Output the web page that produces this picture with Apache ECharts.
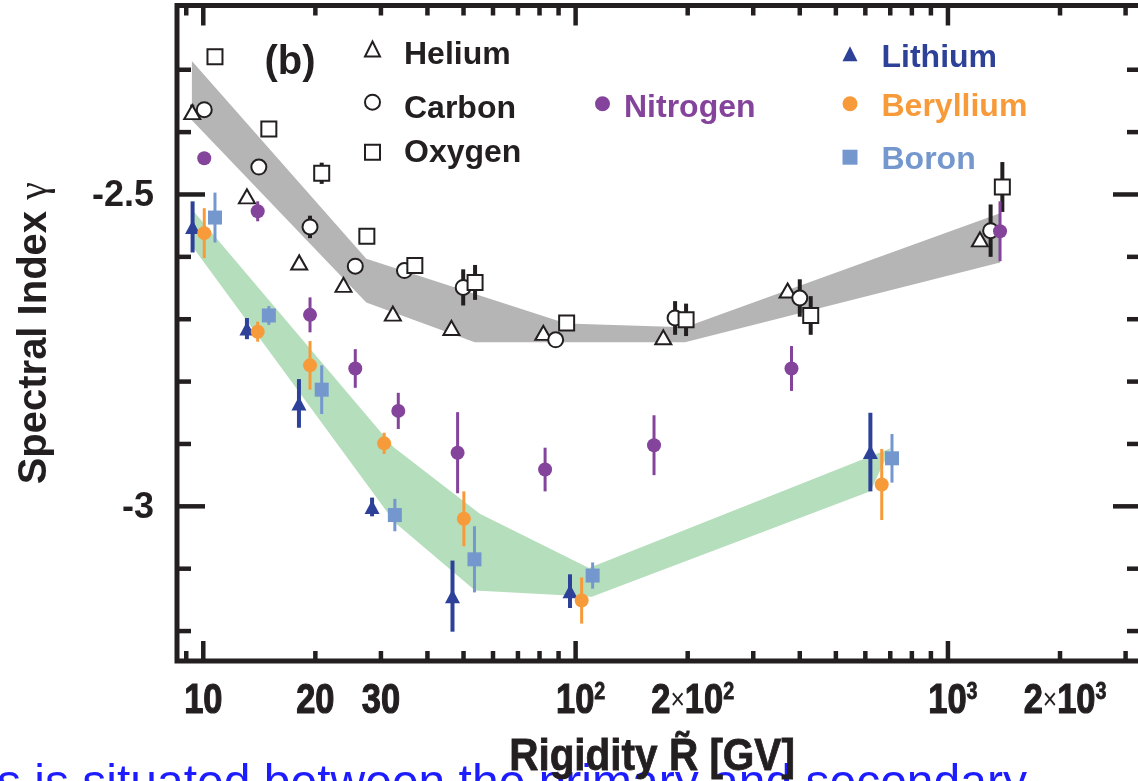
<!DOCTYPE html>
<html>
<head>
<meta charset="utf-8">
<script src="https://cdn.jsdelivr.net/npm/echarts@6/dist/echarts.min.js"></script>
<style>
  html, body { margin: 0; padding: 0; background: #ffffff; }
  #chart { width: 1138px; height: 781px; }
</style>
</head>
<body>
<div id="chart"></div>
<script>
// Spectral index vs rigidity. Each point: [rigidity GV, gamma, error]
const helium = [
  [9.34, -2.368, 0.012], [13.1, -2.503, 0], [18.1, -2.609, 0], [23.8, -2.645, 0],
  [32.3, -2.691, 0], [46.4, -2.714, 0], [81.9, -2.722, 0], [172, -2.729, 0],
  [371, -2.654, 0], [1219, -2.572, 0]
];
const carbon = [
  [10.06, -2.364, 0], [14.1, -2.456, 0], [19.35, -2.552, 0.018], [25.6, -2.615, 0],
  [34.7, -2.622, 0], [49.9, -2.649, 0.029], [88.4, -2.733, 0], [185, -2.698, 0.027],
  [400, -2.666, 0.030], [1302, -2.558, 0.042]
];
const oxygen = [
  [10.75, -2.279, 0], [15.0, -2.395, 0], [20.8, -2.466, 0.017], [27.5, -2.567, 0],
  [37.0, -2.614, 0], [53.7, -2.641, 0.028], [94.6, -2.706, 0], [198, -2.701, 0.026],
  [428, -2.694, 0.031], [1400, -2.488, 0.040]
];
const nitrogen = [
  [10.06, -2.442, 0], [14.0, -2.527, 0.016], [19.35, -2.693, 0.028], [25.6, -2.779, 0.031],
  [33.4, -2.847, 0.029], [48.2, -2.914, 0.065], [82.8, -2.941, 0.035], [162.4, -2.902, 0.048],
  [380, -2.779, 0.036], [1380, -2.559, 0.048]
];
const lithium = [
  [9.36, -2.552, 0.041], [13.1, -2.715, 0.017], [18.07, -2.835, 0.039], [28.4, -3.001, 0.015],
  [46.7, -3.144, 0.057], [96.6, -3.136, 0.027], [619, -2.913, 0.063]
];
const beryllium = [
  [10.06, -2.562, 0.040], [14.0, -2.720, 0.016], [19.35, -2.774, 0.039], [30.6, -2.899, 0.017],
  [50.1, -3.020, 0.044], [103.8, -3.151, 0.037], [664, -2.965, 0.057]
];
const boron = [
  [10.75, -2.537, 0.040], [15.0, -2.694, 0.015], [20.8, -2.813, 0.039], [32.7, -3.014, 0.026],
  [53.5, -3.085, 0.053], [111.1, -3.111, 0.021], [707.5, -2.923, 0.039]
];

// Fit bands: upper and lower edges [rigidity, gamma]
const primaryUpper = [[9.32, -2.286], [27.4, -2.603], [94.4, -2.707], [196.7, -2.713], [1380, -2.530]];
const primaryLower = [[9.32, -2.381], [27.4, -2.673], [53.6, -2.737], [196.7, -2.737], [1380, -2.609]];
const secondaryUpper = [[9.39, -2.526], [32.4, -2.905], [55.3, -3.012], [108.6, -3.099], [702, -2.907]];
const secondaryLower = [[9.39, -2.585], [32.7, -3.026], [53.7, -3.135], [110.5, -3.145], [619, -2.976]];

// Axis ticks and labels
const xMajorTicks = [10, 100, 1000];
const xMinorTicks = [9, 20, 30, 40, 50, 60, 70, 80, 90, 200, 300, 400, 500, 600, 700, 800, 900, 2000, 3000];
const yMajorTicks = [-3, -2.5];
const yMinorTicks = [-3.2, -3.1, -2.9, -2.8, -2.7, -2.6, -2.4, -2.3];
const xLabelValues = [10, 20, 30, 100, 200, 1000, 2000];
const xLabelTexts = ['10', '20', '30', '10{s|2}', '2{x|\u00d7}10{s|2}', '10{s|3}', '2{x|\u00d7}10{s|3}'];
const yLabelValues = [-3, -2.5];
const yLabelTexts = ['-3', '-2.5'];

const X_MIN = 8.5, X_MAX = 3300, Y_MIN = -3.248, Y_MAX = -2.197;
const INK = '#231f20';
const C_N = '#84449b', C_LI = '#2e4198', C_BE = '#f79a3a', C_B = '#7497ce';
const SANS = "'Liberation Sans', Arial, Helvetica, sans-serif";

function bandItem(upper, lower, color) {
  return function (params, api) {
    const pts = upper.map(p => api.coord(p))
      .concat(lower.slice().reverse().map(p => api.coord(p)));
    return { type: 'polygon', shape: { points: pts }, style: { fill: color } };
  };
}

function errorBarItem(color, width) {
  return function (params, api) {
    const x = api.value(0), y = api.value(1), e = api.value(2);
    if (!e) return null;
    const a = api.coord([x, y + e]), b = api.coord([x, y - e]);
    return { type: 'line', shape: { x1: a[0], y1: a[1], x2: b[0], y2: b[1] },
             style: { stroke: color, lineWidth: width } };
  };
}

function xTickItem(params, api) {
  const v = api.value(0), len = api.value(2) ? 20 : 10;
  const b = api.coord([v, Y_MIN]), t = api.coord([v, Y_MAX]);
  const st = { stroke: INK, lineWidth: 4.5 };
  return { type: 'group', children: [
    { type: 'line', shape: { x1: b[0], y1: b[1], x2: b[0], y2: b[1] - len }, style: st },
    { type: 'line', shape: { x1: t[0], y1: t[1], x2: t[0], y2: t[1] + len }, style: st }
  ]};
}

function yTickItem(params, api) {
  const v = api.value(1), len = api.value(2) ? 28 : 14;
  const l = api.coord([X_MIN, v]), r = api.coord([X_MAX, v]);
  const st = { stroke: INK, lineWidth: 4.5 };
  return { type: 'group', children: [
    { type: 'line', shape: { x1: l[0], y1: l[1], x2: l[0] + len, y2: l[1] }, style: st },
    { type: 'line', shape: { x1: r[0], y1: r[1], x2: r[0] - len, y2: r[1] }, style: st }
  ]};
}

// Condensed heavy tick labels: bold face squeezed horizontally, with a thin outline
function xLabelItem(params, api) {
  const p = api.coord([api.value(0), Y_MIN]);
  const text = xLabelTexts[api.value(2)];
  const shift = text.indexOf('{s|') >= 0 ? 5 : 0;
  return { type: 'text', x: p[0] + shift, y: p[1] + 40, scaleX: 0.82,
    style: {
      text: text, fill: INK, stroke: INK, lineWidth: 1.2,
      fontFamily: SANS, fontWeight: 'bold', fontSize: 42, lineHeight: 42,
      align: 'center', verticalAlign: 'middle',
      rich: {
        s: { fontFamily: SANS, fontWeight: 'bold', fontSize: 24, lineHeight: 20, verticalAlign: 'top',
             fill: INK, stroke: INK, lineWidth: 0.8 },
        x: { fontFamily: SANS, fontWeight: 'normal', fontSize: 30, lineHeight: 42,
             fill: INK, stroke: INK, lineWidth: 0 }
      }
    } };
}

function yLabelItem(params, api) {
  const p = api.coord([X_MIN, api.value(1)]);
  return { type: 'text', x: p[0] - 23, y: p[1] + 2,
    style: { text: yLabelTexts[api.value(2)], fill: INK, fontFamily: SANS, fontWeight: 'bold',
             fontSize: 36, align: 'right', verticalAlign: 'middle' } };
}

function scatter(name, data, symbol, size, fill, stroke, bw) {
  return { name: name, type: 'scatter', data: data.map(d => [d[0], d[1]]),
    symbol: symbol, symbolSize: size, z: 4, silent: true,
    itemStyle: { color: fill, borderColor: stroke, borderWidth: bw, opacity: 1 } };
}

function errors(name, data, color, width) {
  return { name: name, type: 'custom', data: data, z: 3, silent: true,
    encode: { x: 0, y: 1 }, renderItem: errorBarItem(color, width) };
}

// One legend block per entry; drop lowers the text relative to its icon
function legendAt(name, iconLeft, iconCenterY, gap, drop, color) {
  return {
    data: [{ name: name }],
    formatter: '{t|{name}}',
    left: iconLeft, top: iconCenterY - 15.5 - drop, padding: 0,
    itemWidth: 15, itemHeight: 15, selectedMode: false,
    textStyle: {
      padding: [0, 0, 0, gap], color: color,
      rich: { t: { fontFamily: SANS, fontWeight: 'bold', fontSize: 32, lineHeight: 31,
                   padding: [2 * drop, 0, 0, 0], color: color } }
    }
  };
}

const chart = echarts.init(document.getElementById('chart'), null, { renderer: 'canvas' });

const option = {
  animation: false,
  backgroundColor: '#ffffff',
  grid: { left: 177, top: 5.5, width: 964, height: 655.5, show: true, outerBoundsMode: 'none',
          containLabel: false, borderColor: INK, borderWidth: 5, backgroundColor: 'transparent' },
  xAxis: {
    type: 'log', logBase: 10, min: X_MIN, max: X_MAX,
    axisLine: { show: false }, axisTick: { show: false }, axisLabel: { show: false },
    splitLine: { show: false }
  },
  yAxis: {
    type: 'value', min: Y_MIN, max: Y_MAX, z: 10,
    axisLine: { show: false }, axisTick: { show: false }, axisLabel: { show: false },
    splitLine: { show: false },
    name: 'Spectral Index {g|\u03b3}', nameLocation: 'middle', nameRotate: 90, nameGap: 122,
    nameTextStyle: { fontFamily: SANS, fontWeight: 'bold', fontSize: 40, color: INK,
      rich: { g: { fontFamily: "'Liberation Serif', 'DejaVu Serif', serif", fontWeight: 'normal', fontSize: 40, color: INK } } }
  },
  legend: [
    legendAt('Helium', 364, 48.5, 19, 6, INK),
    legendAt('Carbon', 364, 101.7, 19, 7, INK),
    legendAt('Oxygen', 364, 151.7, 19, 1, INK),
    legendAt('Nitrogen', 595, 103.3, 9, 4, C_N),
    legendAt('Lithium', 842.5, 53.3, 19, 4, C_LI),
    legendAt('Beryllium', 842.5, 103.3, 19, 3, C_BE),
    legendAt('Boron', 842.5, 156.7, 19, 3, C_B)
  ],
  graphic: {
    elements: [
      { type: 'text', x: 290, y: 63, z: 0,
        style: { text: '(b)', fill: INK, font: 'bold 40px ' + SANS, align: 'center', verticalAlign: 'middle' } },
      { type: 'text', x: -3, y: 785, z: -5,
        style: { text: 's is situated between the primary and secondary', fill: '#1c1cff',
                 font: 'normal 48px ' + SANS, align: 'left', verticalAlign: 'middle' } },
      { type: 'text', x: 652, y: 758, z: 20, scaleX: 0.9,
        style: { text: 'Rigidity R\u0303 [GV]', fill: INK, stroke: INK, lineWidth: 0.8,
                 font: 'bold 45px ' + SANS, align: 'center', verticalAlign: 'middle' } }
    ]
  },
  series: [
    { type: 'custom', z: 1, silent: true, data: [primaryUpper[0]], encode: { x: 0, y: 1 },
      renderItem: bandItem(primaryUpper, primaryLower, '#b4b5b4') },
    { type: 'custom', z: 1, silent: true, data: [secondaryUpper[0]], encode: { x: 0, y: 1 },
      renderItem: bandItem(secondaryUpper, secondaryLower, '#b5debc') },

    errors('He err', helium, INK, 4),
    errors('C err', carbon, INK, 4),
    errors('O err', oxygen, INK, 4),
    errors('N err', nitrogen, C_N, 3),
    errors('Li err', lithium, C_LI, 4),
    errors('Be err', beryllium, C_BE, 3),
    errors('B err', boron, C_B, 3),

    scatter('Helium', helium, 'triangle', [16, 14], '#ffffff', INK, 2),
    scatter('Carbon', carbon, 'circle', 15, '#ffffff', INK, 2),
    scatter('Oxygen', oxygen, 'rect', 15, '#ffffff', INK, 2),
    scatter('Nitrogen', nitrogen, 'circle', 14, C_N, C_N, 0),
    scatter('Lithium', lithium, 'triangle', [15, 14], C_LI, C_LI, 0),
    scatter('Beryllium', beryllium, 'circle', 14, C_BE, C_BE, 0),
    scatter('Boron', boron, 'rect', 14, C_B, C_B, 0),

    { type: 'custom', z: 6, silent: true, encode: { x: 0, y: 1 },
      data: xMajorTicks.map(v => [v, Y_MIN, 1]).concat(xMinorTicks.map(v => [v, Y_MIN, 0])),
      renderItem: xTickItem },
    { type: 'custom', z: 6, silent: true, encode: { x: 0, y: 1 },
      data: yMajorTicks.map(v => [X_MIN, v, 1]).concat(yMinorTicks.map(v => [X_MIN, v, 0])),
      renderItem: yTickItem },
    { type: 'custom', z: 6, silent: true, encode: { x: 0, y: 1 },
      data: xLabelValues.map((v, i) => [v, Y_MIN, i]), renderItem: xLabelItem },
    { type: 'custom', z: 6, silent: true, encode: { x: 0, y: 1 },
      data: yLabelValues.map((v, i) => [X_MIN, v, i]), renderItem: yLabelItem }
  ]
};

chart.setOption(option);
</script>
</body>
</html>
